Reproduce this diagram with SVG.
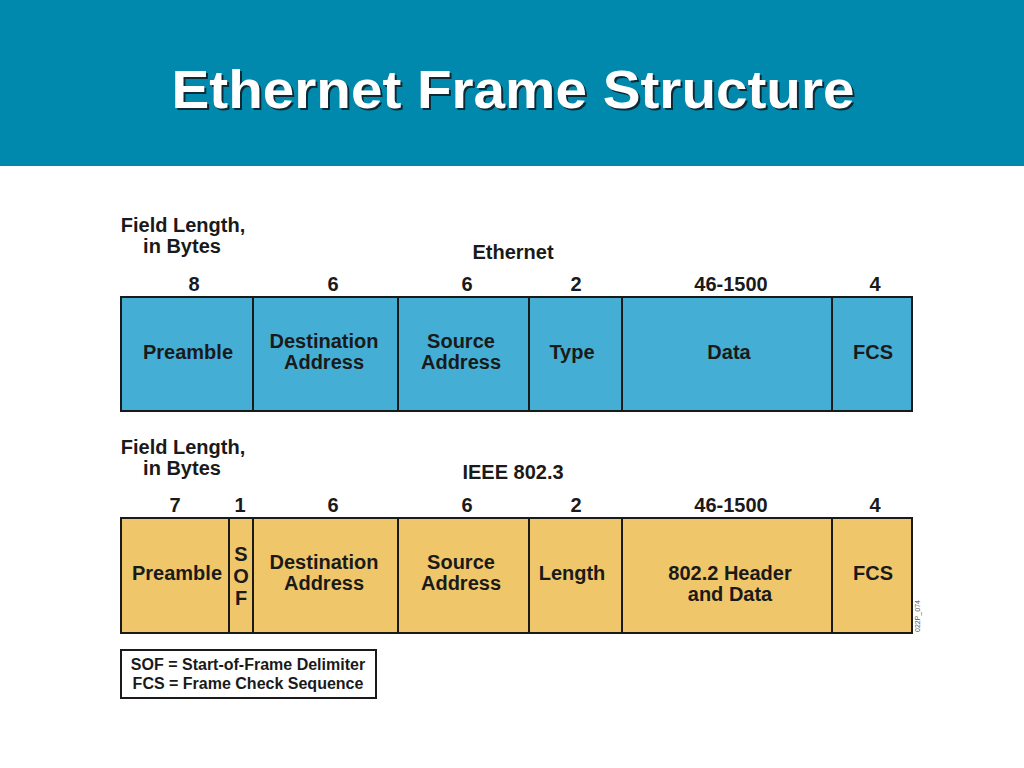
<svg xmlns="http://www.w3.org/2000/svg" width="1024" height="768" viewBox="0 0 1024 768">
<style>
.t{font-family:"Liberation Sans",Arial,sans-serif;font-weight:bold;font-size:20px;fill:#1a1a1a;text-anchor:middle}
.lg{font-family:"Liberation Sans",Arial,sans-serif;font-weight:bold;font-size:16px;fill:#1a1a1a;text-anchor:middle}
.blue{fill:#45AED4;stroke:#1a1a1a;stroke-width:2}
.gold{fill:#EFC76A;stroke:#1a1a1a;stroke-width:2}
.ttl{font-family:"Liberation Sans",Arial,sans-serif;font-weight:bold;font-size:54px;text-anchor:middle}
</style>
<rect x="0" y="0" width="1024" height="768" fill="#ffffff"/>
<rect x="0" y="0" width="1024" height="166" fill="#0089AD"/>
<text class="ttl" x="515" y="110" fill="#0d2a35" textLength="683" lengthAdjust="spacingAndGlyphs">Ethernet Frame Structure</text>
<text class="ttl" x="513" y="108" fill="#ffffff" textLength="683" lengthAdjust="spacingAndGlyphs">Ethernet Frame Structure</text>

<g id="ethernet-labels">
<text class="t" x="183" y="232">Field Length,</text>
<text class="t" x="182" y="253">in Bytes</text>
<text class="t" x="513" y="259">Ethernet</text>
<text class="t" x="194" y="291">8</text>
<text class="t" x="333" y="291">6</text>
<text class="t" x="467" y="291">6</text>
<text class="t" x="576" y="291">2</text>
<text class="t" x="731" y="291">46-1500</text>
<text class="t" x="875" y="291">4</text>
</g>
<g id="eth-preamble"><rect class="blue" x="121" y="297" width="132" height="114"/><text class="t" x="188" y="359">Preamble</text></g>
<g id="eth-dest"><rect class="blue" x="253" y="297" width="145" height="114"/><text class="t" x="324" y="348">Destination</text><text class="t" x="324" y="369">Address</text></g>
<g id="eth-src"><rect class="blue" x="398" y="297" width="131" height="114"/><text class="t" x="461" y="348">Source</text><text class="t" x="461" y="369">Address</text></g>
<g id="eth-type"><rect class="blue" x="529" y="297" width="93" height="114"/><text class="t" x="572" y="359">Type</text></g>
<g id="eth-data"><rect class="blue" x="622" y="297" width="210" height="114"/><text class="t" x="729" y="359">Data</text></g>
<g id="eth-fcs"><rect class="blue" x="832" y="297" width="80" height="114"/><text class="t" x="873" y="359">FCS</text></g>

<g id="ieee-labels">
<text class="t" x="183" y="454">Field Length,</text>
<text class="t" x="182" y="475">in Bytes</text>
<text class="t" x="513" y="479">IEEE 802.3</text>
<text class="t" x="175" y="512">7</text>
<text class="t" x="240" y="512">1</text>
<text class="t" x="333" y="512">6</text>
<text class="t" x="467" y="512">6</text>
<text class="t" x="576" y="512">2</text>
<text class="t" x="731" y="512">46-1500</text>
<text class="t" x="875" y="512">4</text>
</g>
<g id="ieee-preamble"><rect class="gold" x="121" y="518" width="108" height="115"/><text class="t" x="177" y="580">Preamble</text></g>
<g id="ieee-sof"><rect class="gold" x="229" y="518" width="24" height="115"/><text class="t" x="241" y="561">S</text><text class="t" x="241" y="583">O</text><text class="t" x="241" y="605">F</text></g>
<g id="ieee-dest"><rect class="gold" x="253" y="518" width="145" height="115"/><text class="t" x="324" y="569">Destination</text><text class="t" x="324" y="590">Address</text></g>
<g id="ieee-src"><rect class="gold" x="398" y="518" width="131" height="115"/><text class="t" x="461" y="569">Source</text><text class="t" x="461" y="590">Address</text></g>
<g id="ieee-length"><rect class="gold" x="529" y="518" width="93" height="115"/><text class="t" x="572" y="580">Length</text></g>
<g id="ieee-data"><rect class="gold" x="622" y="518" width="210" height="115"/><text class="t" x="730" y="580">802.2 Header</text><text class="t" x="730" y="601">and Data</text></g>
<g id="ieee-fcs"><rect class="gold" x="832" y="518" width="80" height="115"/><text class="t" x="873" y="580">FCS</text></g>
<text x="920" y="632" transform="rotate(-90 920 632)" font-family="Liberation Sans,Arial,sans-serif" font-size="7" fill="#555">022P_074</text>

<g id="legend">
<rect x="121" y="650" width="255" height="48" fill="#ffffff" stroke="#1a1a1a" stroke-width="2"/>
<text class="lg" x="248" y="670">SOF = Start-of-Frame Delimiter</text>
<text class="lg" x="248" y="689">FCS = Frame Check Sequence</text>
</g>
<g id="connectors"/>
</svg>
